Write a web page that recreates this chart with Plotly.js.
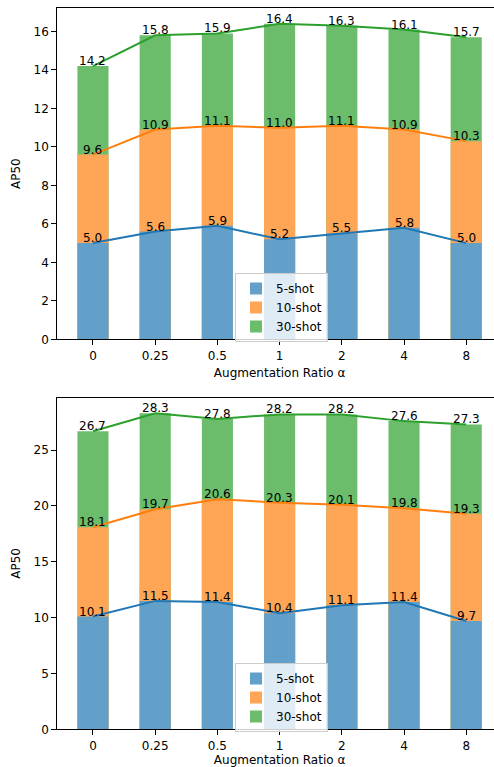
<!DOCTYPE html>
<html>
<head>
<meta charset="utf-8">
<script src="https://cdn.plot.ly/plotly-3.0.1.min.js"></script>
<style>
html,body{margin:0;padding:0;overflow:hidden;background:#fff;}
#chart{width:510px;height:767px;}
</style>
</head>
<body>
<div id="chart"></div>
<script>
const ratios = ["0", "0.25", "0.5", "1", "2", "4", "8"];
const seriesNames = ["5-shot", "10-shot", "30-shot"];

// Top panel values (AP50)
const topShot5  = [5.0, 5.6, 5.9, 5.2, 5.5, 5.8, 5.0];
const topShot10 = [9.6, 10.9, 11.1, 11.0, 11.1, 10.9, 10.3];
const topShot30 = [14.2, 15.8, 15.9, 16.4, 16.3, 16.1, 15.7];

// Bottom panel values (AP50)
const botShot5  = [10.1, 11.5, 11.4, 10.4, 11.1, 11.4, 9.7];
const botShot10 = [18.1, 19.7, 20.6, 20.3, 20.1, 19.8, 19.3];
const botShot30 = [26.7, 28.3, 27.8, 28.2, 28.2, 27.6, 27.3];

const barColors  = ["#62a0ca", "#ffa556", "#6bbc6b"];
const lineColors = ["#1f77b4", "#ff7f0e", "#2ca02c"];
const FONT = "DejaVu Sans, sans-serif";

const traces = [];
const annotations = [];

function addPanel(series, xa, ya, legendId) {
  // bars: draw tallest first so shorter ones sit on top
  for (let i = series.length - 1; i >= 0; i--) {
    traces.push({
      type: "bar", x: ratios, y: series[i], name: seriesNames[i],
      xaxis: xa, yaxis: ya, legend: legendId, legendrank: i + 1,
      width: 0.5, marker: {color: barColors[i], line: {width: 0}},
      hoverinfo: "skip"
    });
  }
  for (let i = 0; i < series.length; i++) {
    traces.push({
      type: "scatter", mode: "lines", x: ratios, y: series[i],
      xaxis: xa, yaxis: ya, showlegend: false,
      line: {color: lineColors[i], width: 2}, hoverinfo: "skip"
    });
    series[i].forEach((v, k) => {
      annotations.push({
        xref: xa, yref: ya, x: k, y: v, text: v.toFixed(1),
        showarrow: false, xanchor: "center", yanchor: "bottom", yshift: -4,
        font: {family: FONT, size: 12, color: "#000"}
      });
    });
  }
}

addPanel([topShot5, topShot10, topShot30], "x", "y", "legend");
addPanel([botShot5, botShot10, botShot30], "x2", "y2", "legend2");

const W = 510, H = 767;
const xdom = [57.2 / W, 502 / W];

function xAxis(anchor) {
  return {
    domain: xdom, anchor: anchor, type: "category",
    range: [-0.575, 6.575], showgrid: false, zeroline: false,
    showline: true, mirror: true, linecolor: "#000", linewidth: 1,
    ticks: "outside", ticklen: 5, tickcolor: "#000", tickwidth: 1,
    tickfont: {family: FONT, size: 12, color: "#000"},
    title: {text: "Augmentation Ratio α", font: {family: FONT, size: 12, color: "#000"}, standoff: 6}
  };
}
function yAxis(anchor, dom, rmax, dtick) {
  return {
    domain: dom, anchor: anchor, range: [0, rmax], dtick: dtick,
    showgrid: false, zeroline: false,
    showline: true, mirror: true, linecolor: "#000", linewidth: 1,
    ticks: "outside", ticklen: 5, tickcolor: "#000", tickwidth: 1,
    tickfont: {family: FONT, size: 12, color: "#000"},
    title: {text: "AP50", font: {family: FONT, size: 12, color: "#000"}, standoff: 10}
  };
}

const legendStyle = (y) => ({
  x: 235 / W, y: y, xanchor: "left", yanchor: "top",
  bgcolor: "rgba(255,255,255,0.8)", bordercolor: "#cccccc", borderwidth: 1,
  font: {family: FONT, size: 12, color: "#000"}, tracegroupgap: 0
});

const layout = {
  width: W, height: H,
  margin: {l: 0, r: 0, t: 0, b: 0},
  paper_bgcolor: "#fff", plot_bgcolor: "#fff",
  barmode: "overlay", showlegend: true,
  xaxis: xAxis("y"),
  yaxis: yAxis("x", [(H - 339.3) / H, (H - 8) / H], 17.22, 2),
  xaxis2: xAxis("y2"),
  yaxis2: yAxis("x2", [(H - 729.3) / H, (H - 397.5) / H], 29.715, 5),
  legend: legendStyle((H - 273) / H),
  legend2: legendStyle((H - 663) / H),
  annotations: annotations
};

Plotly.newPlot("chart", traces, layout, {displayModeBar: false, staticPlot: true});
</script>
</body>
</html>
